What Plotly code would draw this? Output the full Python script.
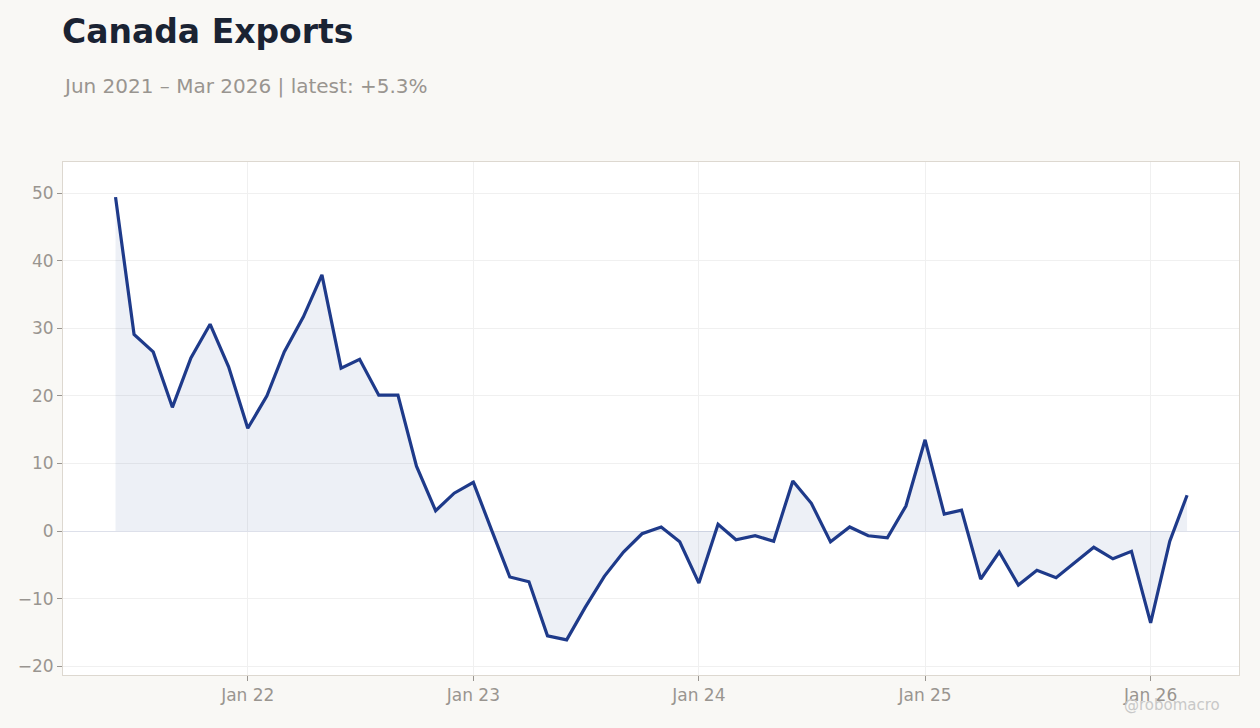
import plotly.graph_objects as go
import pandas as pd

dates = pd.date_range("2021-06-01", "2026-03-01", freq="MS")
values = [49.4, 29.1, 26.5, 18.3, 25.6, 30.6, 24.3,
          15.2, 20.0, 26.5, 31.7, 37.9, 24.1, 25.4, 20.1, 20.1, 9.6, 3.0, 5.6,
          7.2, -0.2, -6.8, -7.5, -15.5, -16.1, -11.3, -6.7, -3.1, -0.4, 0.6, -1.6,
          -7.7, 1.0, -1.3, -0.7, -1.5, 7.4, 4.1, -1.6, 0.6, -0.7, -1.0, 3.7,
          13.5, 2.5, 3.1, -7.1, -3.1, -8.0, -5.8, -6.9, -4.6, -2.4, -4.1, -3.0,
          -13.6, -1.5, 5.3]

title_text = "Canada Exports"
subtitle_text = "Jun 2021 – Mar 2026 | latest: +5.3%"
watermark = "@robomacro"

fig = go.Figure()
fig.add_trace(go.Scatter(
    x=dates, y=values, mode="lines",
    line=dict(color="#1e3a8a", width=3.2),
    fill="tozeroy", fillcolor="rgba(30,58,138,0.08)",
    hoverinfo="x+y", showlegend=False,
))

fig.update_layout(
    width=1260, height=728,
    margin=dict(l=63, r=21, t=162, b=53),
    paper_bgcolor="#f9f8f5",
    plot_bgcolor="#ffffff",
    font=dict(family="DejaVu Sans", color="#999590"),
    xaxis=dict(
        range=["2021-03-08", "2026-05-24"],
        tickformat="%b %y", dtick="M12", tick0="2022-01-01",
        showgrid=True, gridcolor="#f0f0f0", gridwidth=1,
        ticks="outside", ticklen=5, tickcolor="#999590",
        tickfont=dict(size=17, color="#999590"),
        showline=True, linecolor="#ddd8d0", mirror=True, zeroline=False,
    ),
    yaxis=dict(
        range=[-21.3, 54.6],
        dtick=10, tick0=0,
        showgrid=True, gridcolor="#f0f0f0", gridwidth=1,
        ticks="outside", ticklen=5, tickcolor="#999590",
        tickfont=dict(size=17, color="#999590"),
        showline=True, linecolor="#ddd8d0", mirror=True,
        zeroline=True, zerolinecolor="#dde0ea", zerolinewidth=1,
    ),
    annotations=[
        dict(text=f"<b>{title_text}</b>", xref="paper", yref="paper",
             x=0, y=1 + 131 / 513, xanchor="left", yanchor="middle", xshift=-3,
             showarrow=False, font=dict(size=33, color="#1a2333", family="DejaVu Sans")),
        dict(text=subtitle_text, xref="paper", yref="paper",
             x=0, y=1 + 76 / 513, xanchor="left", yanchor="middle", xshift=-2,
             showarrow=False, font=dict(size=20, color="#999590", family="DejaVu Sans")),
        dict(text=watermark, xref="paper", yref="paper",
             x=(1172 - 63) / 1176, y=-30 / 513, xanchor="center", yanchor="middle",
             showarrow=False, font=dict(size=15, color="#c8c8c8", family="DejaVu Sans")),
    ],
)

fig.write_html("out.html")
